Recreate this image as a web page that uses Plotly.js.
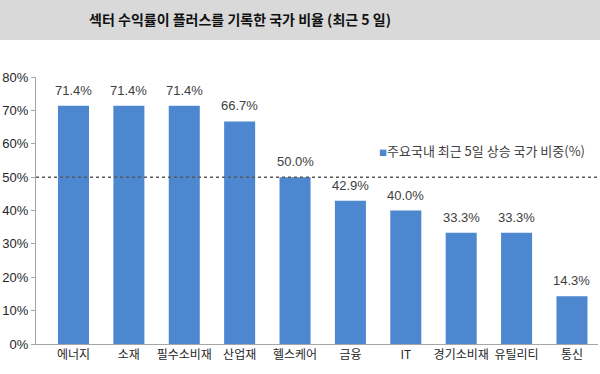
<!DOCTYPE html>
<html>
<head>
<meta charset="utf-8">
<script src="https://cdn.plot.ly/plotly-3.0.1.min.js"></script>
<style>html,body{margin:0;padding:0;background:#fff;}#chart{width:600px;height:374px;}</style>
</head>
<body>
<div id="chart"></div>
<script>
const categories = ["에너지", "소재", "필수소비재", "산업재", "헬스케어", "금융", "IT", "경기소비재", "유틸리티", "통신"];
const shareValues = [0.714, 0.714, 0.714, 0.667, 0.500, 0.429, 0.400, 0.333, 0.333, 0.143];
const referenceLevel = 0.5;
const seriesName = "주요국내 최근 5일 상승 국가 비중(%)";
const titleText = "섹터 수익률이 플러스를 기록한 국가 비율 (최근 5 일)";
const yTickValues = [0, 0.1, 0.2, 0.3, 0.4, 0.5, 0.6, 0.7, 0.8];

const FONT = "'Liberation Sans', Arial, 'Noto Sans CJK KR', sans-serif";
const KFONT = "'Noto Sans CJK KR', 'Liberation Sans', sans-serif";
const BLUE = "#4d87cf";
const TXT = "#404040";

const trace = {
  type: "bar",
  x: categories,
  y: shareValues,
  name: seriesName,
  marker: {color: BLUE},
  width: 0.56,
  showlegend: false,
  hoverinfo: "skip"
};

const valueLabels = categories.map((c, i) => ({
  x: c, y: shareValues[i], xref: "x", yref: "y",
  text: (shareValues[i] * 100).toFixed(1) + "%",
  showarrow: false, xanchor: "center", yanchor: "bottom", yshift: 6,
  font: {family: FONT, size: 13, color: TXT}
}));

const layout = {
  width: 600,
  height: 374,
  margin: {l: 36, r: 2, t: 77, b: 30},
  paper_bgcolor: "#ffffff",
  plot_bgcolor: "#ffffff",
  font: {family: FONT, size: 13, color: TXT},
  title: {
    text: "<b>" + titleText + "</b>",
    font: {family: KFONT, size: 14, color: "#111111"},
    x: 0.4, xref: "container", xanchor: "center",
    y: 1 - 20/374, yref: "container", yanchor: "middle"
  },
  xaxis: {
    type: "category",
    range: [-0.677, 9.47],
    showgrid: false,
    zeroline: false,
    showline: true,
    linecolor: "#a6a6a6",
    linewidth: 1,
    ticks: "",
    tickfont: {family: KFONT, size: 12, color: "#262626"},
    fixedrange: true
  },
  yaxis: {
    range: [0, 0.8],
    tickvals: yTickValues,
    tickformat: ".0%",
    showgrid: false,
    zeroline: false,
    showline: true,
    linecolor: "#a6a6a6",
    linewidth: 1,
    ticks: "outside",
    ticklen: 4,
    tickcolor: "#a6a6a6",
    tickfont: {family: FONT, size: 13, color: "#262626"},
    fixedrange: true
  },
  shapes: [
    {type: "rect", xref: "paper", yref: "paper", x0: -0.07, x1: 1.01,
     y0: (344 - 40) / 267, y1: 344 / 267, fillcolor: "#d9d9d9", line: {width: 0}, layer: "below"},
    {type: "line", xref: "paper", yref: "y", x0: 0, x1: 1,
     y0: referenceLevel, y1: referenceLevel,
     line: {color: "#595959", width: 1.5, dash: "dot"}}
  ],
  annotations: valueLabels.concat([
    {xref: "paper", yref: "paper", x: (377 - 36) / 562, y: (344 - 150) / 267,
     xanchor: "left", yanchor: "middle", showarrow: false,
     text: "<span style='color:" + BLUE + ";font-size:8px'>■</span>" + seriesName,
     font: {family: KFONT, size: 13, color: TXT}}
  ])
};

Plotly.newPlot("chart", [trace], layout, {displayModeBar: false, staticPlot: true});
</script>
</body>
</html>
